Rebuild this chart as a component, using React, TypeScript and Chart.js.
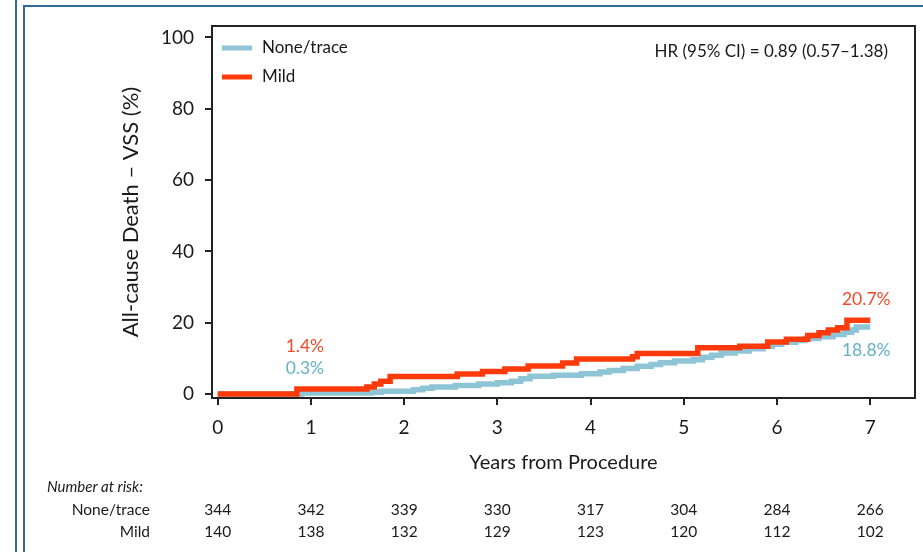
import React, { useEffect, useRef } from "react";
import { Chart, registerables } from "chart.js";

Chart.register(...registerables);

// ---------------- data ----------------
const seriesLabels = ["None/trace", "Mild"];
const seriesColors = ["#8dc4d6", "#ff3a0a"];
const labelColors = ["#62b1c9", "#f2492a"];

const noneTimes = [0, 0.9, 1.65, 1.75, 2.1, 2.2, 2.3, 2.55, 2.8, 3.0, 3.15, 3.25, 3.35, 3.6, 3.9, 4.1, 4.2, 4.35, 4.5, 4.65, 4.75, 4.9, 5.1, 5.2, 5.3, 5.4, 5.55, 5.7, 5.85, 5.95, 6.05, 6.2, 6.3, 6.45, 6.6, 6.72, 6.8, 6.85, 7.0];
const noneValues = [0, 0.3, 0.5, 0.8, 1.2, 1.6, 2.0, 2.4, 2.8, 3.2, 3.6, 4.3, 5.0, 5.3, 5.7, 6.2, 6.6, 7.2, 7.8, 8.3, 8.8, 9.3, 9.6, 10.3, 10.9, 11.5, 12.1, 12.7, 13.4, 14.0, 14.5, 15.0, 15.6, 16.1, 16.7, 17.3, 18.0, 18.8, 18.8];

const mildTimes = [0, 0.85, 1.6, 1.68, 1.75, 1.85, 2.57, 2.84, 3.08, 3.33, 3.7, 3.85, 4.45, 4.5, 5.15, 5.6, 5.9, 6.1, 6.33, 6.45, 6.55, 6.65, 6.75, 7.0];
const mildValues = [0, 1.4, 2.0, 2.8, 3.6, 4.9, 5.6, 6.3, 7.0, 7.9, 8.7, 9.8, 10.5, 11.4, 13.0, 13.4, 14.6, 15.4, 16.4, 17.2, 18.0, 18.6, 20.7, 20.7];

const oneYearLabels = ["0.3%", "1.4%"];
const finalLabels = ["18.8%", "20.7%"];
const hrText = "HR (95% CI) = 0.89 (0.57\u20131.38)";

const xTickValues = [0, 1, 2, 3, 4, 5, 6, 7];
const yTickValues = [0, 20, 40, 60, 80, 100];

const riskTitle = "Number at risk:";
const riskTimes = [0, 1, 2, 3, 4, 5, 6, 7];
const riskNone = [344, 342, 339, 330, 317, 304, 284, 266];
const riskMild = [140, 138, 132, 129, 123, 120, 112, 102];

const FONT = "Lato, 'Open Sans', sans-serif";
const INK = "#1a1a1a";

const toPoints = (t: number[], v: number[]) => t.map((x, i) => ({ x, y: v[i] }));

const overlayPlugin = {
  id: "overlay",
  afterDraw(chart: any) {
    const ctx = chart.ctx as CanvasRenderingContext2D;
    const xs = chart.scales.x;
    const ys = chart.scales.y;
    const area = chart.chartArea;
    ctx.save();

    // top and right borders of the plot box
    ctx.strokeStyle = "#222";
    ctx.lineWidth = 2;
    ctx.beginPath();
    ctx.moveTo(area.left, area.top);
    ctx.lineTo(area.right, area.top);
    ctx.lineTo(area.right, area.bottom);
    ctx.stroke();

    // legend
    ctx.font = `17px ${FONT}`;
    ctx.textBaseline = "middle";
    ctx.textAlign = "left";
    const legendY = [48, 77];
    seriesLabels.forEach((lab, i) => {
      ctx.strokeStyle = seriesColors[i];
      ctx.lineWidth = 5;
      ctx.beginPath();
      ctx.moveTo(area.left + 10, legendY[i]);
      ctx.lineTo(area.left + 40, legendY[i]);
      ctx.stroke();
      ctx.fillStyle = INK;
      ctx.fillText(lab, area.left + 50, legendY[i]);
    });

    // HR text
    ctx.textAlign = "right";
    ctx.fillStyle = INK;
    ctx.font = `17px ${FONT}`;
    ctx.fillText(hrText, area.right - 27, 52);

    // landmark labels
    ctx.font = `17.5px ${FONT}`;
    ctx.textAlign = "center";
    const y0 = ys.getPixelForValue(0);
    const x1 = xs.getPixelForValue(1) - 6;
    ctx.fillStyle = labelColors[1];
    ctx.fillText(oneYearLabels[1], x1, y0 - 48);
    ctx.fillStyle = labelColors[0];
    ctx.fillText(oneYearLabels[0], x1, y0 - 26);

    const x7 = xs.getPixelForValue(7) - 4;
    ctx.fillStyle = labelColors[1];
    ctx.fillText(finalLabels[1], x7, ys.getPixelForValue(mildValues[mildValues.length - 1]) - 21);
    ctx.fillStyle = labelColors[0];
    ctx.fillText(finalLabels[0], x7, ys.getPixelForValue(noneValues[noneValues.length - 1]) + 23);

    // number at risk table
    ctx.fillStyle = INK;
    ctx.textAlign = "left";
    ctx.font = `italic 15px ${FONT}`;
    ctx.fillText(riskTitle, 47, 487);
    ctx.font = `15.5px ${FONT}`;
    ctx.textAlign = "right";
    ctx.fillText(seriesLabels[0], 150, 510);
    ctx.fillText(seriesLabels[1], 150, 532);
    ctx.textAlign = "center";
    riskTimes.forEach((t, i) => {
      const px = xs.getPixelForValue(t);
      ctx.fillText(String(riskNone[i]), px, 510);
      ctx.fillText(String(riskMild[i]), px, 532);
    });

    ctx.restore();
  },
};

export default function App() {
  const canvasRef = useRef<HTMLCanvasElement | null>(null);

  useEffect(() => {
    const canvas = canvasRef.current;
    if (!canvas) return;
    const chart = new Chart(canvas, {
      type: "line",
      data: {
        datasets: [
          {
            label: seriesLabels[0],
            data: toPoints(noneTimes, noneValues),
            borderColor: seriesColors[0],
            backgroundColor: seriesColors[0],
            borderWidth: 5.5,
            pointRadius: 0,
            stepped: "before",
            fill: false,
            order: 1,
          },
          {
            label: seriesLabels[1],
            data: toPoints(mildTimes, mildValues),
            borderColor: seriesColors[1],
            backgroundColor: seriesColors[1],
            borderWidth: 5.5,
            pointRadius: 0,
            stepped: "before",
            fill: false,
            order: 0,
          },
        ],
      },
      options: {
        responsive: false,
        animation: false,
        events: [],
        layout: { padding: { left: 0, right: 8, top: 26, bottom: 0 } },
        plugins: {
          legend: { display: false },
          tooltip: { enabled: false },
        },
        scales: {
          x: {
            type: "linear",
            min: -0.061,
            max: 7.48,
            afterBuildTicks: (s: any) => {
              s.ticks = xTickValues.map((v) => ({ value: v }));
            },
            afterFit: (s: any) => {
              s.height = 154;
            },
            grid: { display: true, drawOnChartArea: false, drawTicks: true, tickLength: 7, color: "#222", lineWidth: 2 },
            border: { display: true, color: "#222", width: 2 },
            ticks: {
              color: INK,
              font: { family: FONT, size: 19 },
              padding: 11,
              maxRotation: 0,
              autoSkip: false,
            },
            title: {
              display: true,
              text: "Years from Procedure",
              color: INK,
              font: { family: FONT, size: 20 },
              padding: { top: 0, bottom: 77 },
              align: "center",
            },
          },
          y: {
            type: "linear",
            min: -1.1,
            max: 103.2,
            afterBuildTicks: (s: any) => {
              s.ticks = yTickValues.map((v) => ({ value: v }));
            },
            afterFit: (s: any) => {
              s.width = 212;
            },
            grid: { display: true, drawOnChartArea: false, drawTicks: true, tickLength: 7, color: "#222", lineWidth: 2 },
            border: { display: true, color: "#222", width: 2 },
            ticks: {
              color: INK,
              font: { family: FONT, size: 19 },
              padding: 11,
            },
            title: {
              display: true,
              text: "All-cause Death \u2013 VSS (%)",
              color: INK,
              font: { family: FONT, size: 22 },
              padding: { top: 118, bottom: 0 },
            },
          },
        },
      },
      plugins: [overlayPlugin],
    } as any);
    if ((document as any).fonts && (document as any).fonts.ready) {
      (document as any).fonts.ready.then(() => {
        try { chart.update(); } catch (e) {}
      });
    }
    return () => chart.destroy();
  }, []);

  return (
    <div style={{ position: "fixed", left: 0, top: 0, width: 923, height: 552, background: "#fff", overflow: "hidden" }}>
      <canvas ref={canvasRef} width={923} height={552} style={{ position: "absolute", left: 0, top: 0, display: "block" }} />
      <div style={{ position: "absolute", left: 15, top: 0, width: 2, height: 552, background: "#2d6c98" }} />
      <div style={{ position: "absolute", left: 23, top: 5, right: 0, bottom: 0, borderLeft: "2px solid #2d6c98", borderTop: "2px solid #2d6c98" }} />
    </div>
  );
}
